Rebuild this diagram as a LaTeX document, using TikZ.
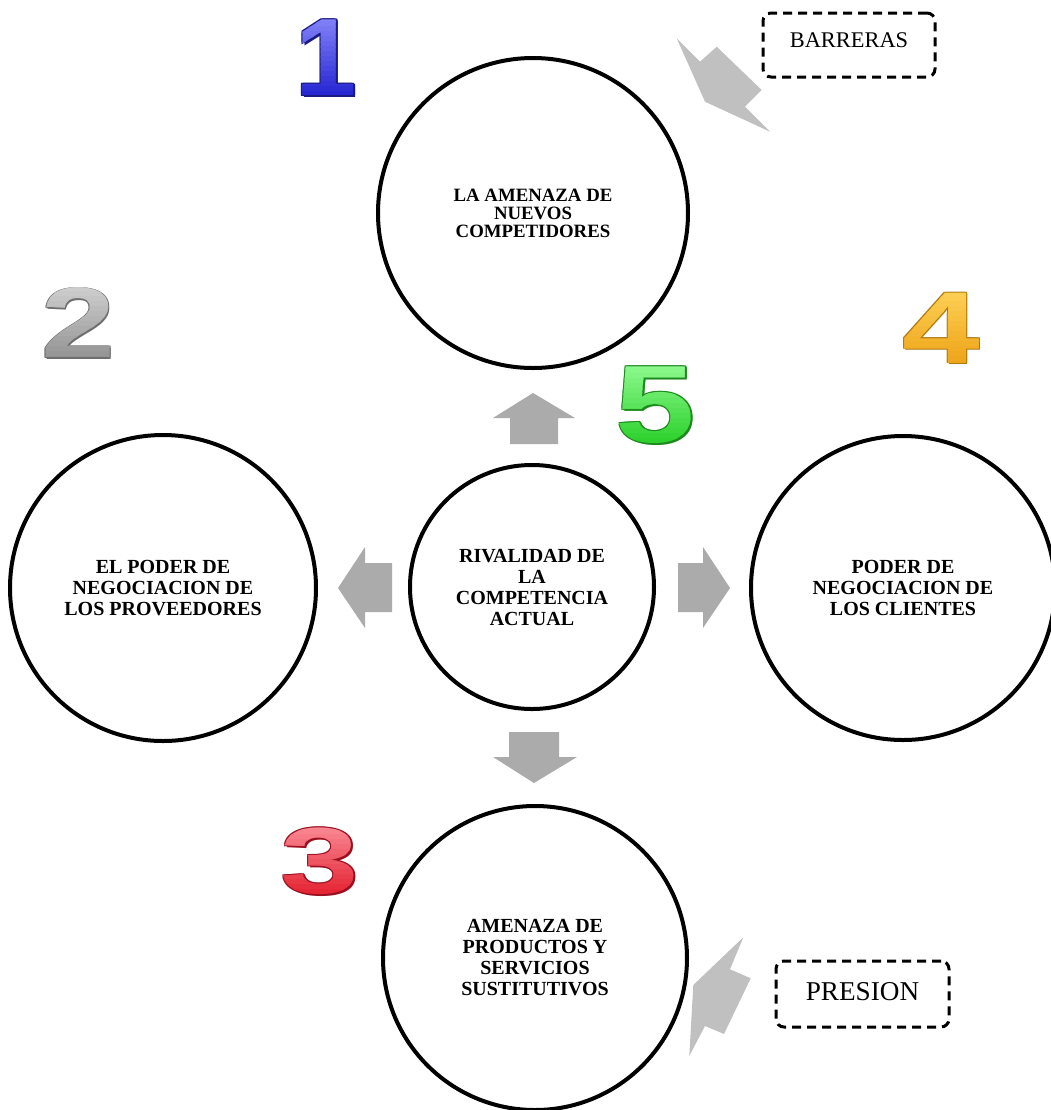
\documentclass[tikz,border=0pt]{standalone}
\usepackage{fontspec}
\setmainfont{Liberation Serif}
\newfontfamily\digitfont{Liberation Sans}
\definecolor{arrowgray}{HTML}{ABABAB}
\definecolor{skewgray}{HTML}{C0C0C0}
\definecolor{onetop}{HTML}{9090FF}
\definecolor{onebottom}{HTML}{1A1ACC}
\definecolor{oneedge}{HTML}{1A1A80}
\definecolor{twotop}{HTML}{DADADA}
\definecolor{twobottom}{HTML}{8A8A8A}
\definecolor{twoedge}{HTML}{6E6E6E}
\definecolor{threetop}{HTML}{FFA0AC}
\definecolor{threebottom}{HTML}{E0101E}
\definecolor{threeedge}{HTML}{9A1020}
\definecolor{fourtop}{HTML}{FFD860}
\definecolor{fourbottom}{HTML}{EC9E10}
\definecolor{fouredge}{HTML}{B07A10}
\definecolor{fivetop}{HTML}{9AFF9A}
\definecolor{fivebottom}{HTML}{22CC22}
\definecolor{fiveedge}{HTML}{1E8A1E}
% a bevelled digit: dark rim copies, then the face in horizontal bands
% blending from the top colour to the bottom colour
% #1 x, #2 y, #3 font size, #4 xscale, #5 top, #6 bottom, #7 rim, #8 digit
\newcommand\layerednumber[8]{%
  \foreach \dx/\dy in {1.8/1.8, -0.9/-0.9, 0.9/-0.9, -0.9/0.9, 1.8/0}{
    \node[bignum={#3}, xscale=#4, text=#7] at ({#1+\dx},{#2+\dy}) {#8};}
  \foreach \k in {0,...,19}{
    \pgfmathsetmacro\mixpct{100-\k*100/19}
    \begin{scope}
      \clip ({#1-70},{#2-52+\k*5}) rectangle ({#1+70},{#2-46+\k*5});
      \node[bignum={#3}, xscale=#4, text={#5!\mixpct!#6}] at (#1,#2) {#8};
    \end{scope}}
}
\begin{document}
\begin{tikzpicture}[x=0.5pt,y=-0.5pt,
  force/.style={circle, draw, line width=2pt, minimum size=#1, inner sep=0pt,
    align=center, font=\bfseries\fontsize{10}{10.5}\selectfont},
  blockarrow/.style={fill=arrowgray, draw=none},
  skewarrow/.style={fill=skewgray, draw=none},
  notebox/.style={draw, dash pattern=on 4.5pt off 3pt, line width=1.5pt,
    rounded corners=4pt, inner sep=0pt, align=center},
  bignum/.style={inner sep=0pt, font=\digitfont\bfseries\fontsize{#1}{#1}\selectfont}
]
\useasboundingbox (0,0) rectangle (1051,1110);

% the five forces
\node[force=155pt, font=\bfseries\fontsize{9.4}{9}\selectfont] (entrants) at (533,213)
  {LA AMENAZA DE\\NUEVOS\\COMPETIDORES};
\node[force=153pt] (suppliers) at (163,588) {EL PODER DE\\NEGOCIACION DE\\LOS PROVEEDORES};
\node[force=152pt] (buyers) at (903,588) {PODER DE\\NEGOCIACION DE\\LOS CLIENTES};
\node[force=122pt] (rivalry) at (532,587) {RIVALIDAD DE\\LA\\COMPETENCIA\\ACTUAL};
\node[force=152pt] (substitutes) at (535,958) {AMENAZA DE\\PRODUCTOS Y\\SERVICIOS\\SUSTITUTIVOS};

% block arrows leaving the rivalry circle
\fill[blockarrow] (533,393) -- (575,418) -- (558,418) -- (558,444) -- (510,444) -- (510,418) -- (493,418) -- cycle;
\fill[blockarrow] (338,588) -- (365,547) -- (365,563) -- (392,563) -- (392,612) -- (365,612) -- (365,628) -- cycle;
\fill[blockarrow] (730,588) -- (703,547) -- (703,563) -- (678,563) -- (678,612) -- (703,612) -- (703,628) -- cycle;
\fill[blockarrow] (534,783) -- (577,757) -- (559,757) -- (559,732) -- (509,732) -- (509,757) -- (493,757) -- cycle;

% skewed arrows from the side notes
\fill[skewarrow] (676.7,38.3) -- (700,61.7) -- (716.7,46.7) -- (761.7,90) -- (745,106.7) -- (770,131.7) -- (705,101.7) -- cycle;
\fill[skewarrow] (743.3,937.3) -- (730,969.3) -- (750.7,978.3) -- (724,1034) -- (705,1026) -- (689.3,1056) -- (693.3,985) -- cycle;

% side notes
\node[notebox, minimum width=86pt, text height=17pt, text depth=15pt,
  font=\fontsize{11.2}{12}\selectfont] (barriers) at (849,45) {BARRERAS};
\node[notebox, minimum width=86.5pt, text height=19.5pt, text depth=13.5pt,
  font=\fontsize{13.6}{15}\selectfont] (pressure) at (862.5,994) {PRESION};

% numbering
\layerednumber{326}{58}{55}{1.0}{onetop}{onebottom}{oneedge}{1}
\layerednumber{78}{323}{50}{1.33}{twotop}{twobottom}{twoedge}{2}
\layerednumber{320}{861}{47}{1.5}{threetop}{threebottom}{threeedge}{3}
\layerednumber{941}{328}{51}{1.37}{fourtop}{fourbottom}{fouredge}{4}
\layerednumber{655}{405}{55}{1.3}{fivetop}{fivebottom}{fiveedge}{5}
\end{tikzpicture}
\end{document}
